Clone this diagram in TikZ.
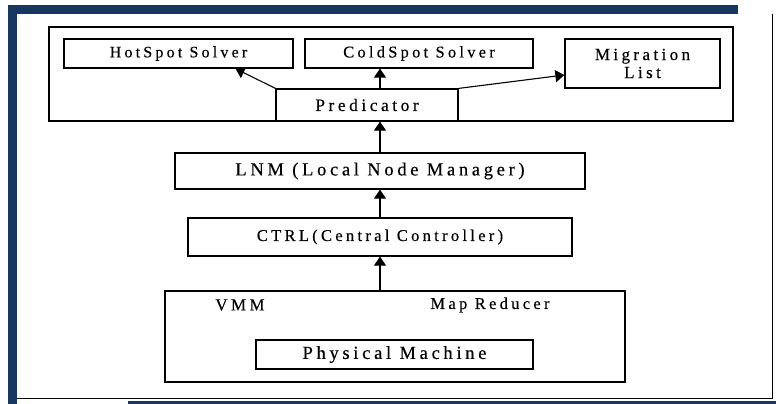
\documentclass[tikz,border=0pt]{standalone}
\usepackage{fontspec}
\setmainfont{Liberation Serif}[LetterSpace=20,FakeBold=0.4]
\usepackage{tikz}
\usepackage{xcolor}
\usetikzlibrary{arrows.meta}
\definecolor{frameblue}{RGB}{24,55,94}

\begin{document}
\begin{tikzpicture}[x=1pt,y=-1pt,
    box/.style={draw,line width=1.2pt,rectangle,inner sep=0pt,font=\fontsize{16}{18}\selectfont},
    arr/.style={line width=1.1pt,-{Triangle[length=9pt,width=12pt]}}]
    \useasboundingbox (0,0) rectangle (776,404);
    % page frame
    \fill[frameblue] (8,5) rectangle (17,404);
    \fill[frameblue] (8,5) rectangle (738,14);
    \fill[frameblue] (128,401) rectangle (776,404);
    \draw[line width=0.8pt] (772,14) -- (772,398) -- (17,398);
    % solver part
    \node[box,minimum width=684pt,minimum height=94pt] (solvers) at (391,74) {};
    \node[box,minimum width=229pt,minimum height=29pt] (hot) at (178.5,53.5) {HotSpot Solver};
    \node[box,minimum width=228pt,minimum height=29pt,font=\fontsize{16.4}{18}\selectfont] (cold) at (419,53.5) {ColdSpot Solver};
    \node[box,minimum width=155pt,minimum height=49pt,align=center,font=\fontsize{17}{18}\selectfont] (migr) at (642.5,63.5) {Migration\\List};
    \node[box,minimum width=182pt,minimum height=32pt,font=\fontsize{17.5}{18}\selectfont] (pred) at (367,105) {Predicator};
    % managers
    \node[box,minimum width=410pt,minimum height=36pt,font=\fontsize{18.5}{20}\selectfont] (lnm) at (380,171) {LNM (Local Node Manager)};
    \node[box,minimum width=384pt,minimum height=38pt,font=\fontsize{16.5}{18}\selectfont] (ctrl) at (380,237) {CTRL(Central Controller)};
    % machine
    \node[box,minimum width=460pt,minimum height=91pt] (vmbox) at (395,336.5) {};
    \node[font=\fontsize{17}{18}\selectfont] (vmm) at (240,305) {VMM};
    \node[font=\fontsize{16.5}{18}\selectfont] (mapred) at (490,305) {Map Reducer};
    \node[box,minimum width=277pt,minimum height=29pt,font=\fontsize{18.5}{20}\selectfont] (phys) at (394.5,354.5) {Physical Machine};
    % arrows
    \draw[arr] (pred.north west) -- ([xshift=57pt]hot.south);
    \draw[arr] (pred.north -| lnm.north) -- (cold.south -| lnm.north);
    \draw[arr] (pred.north east) -- ([yshift=-11.5pt]migr.west);
    \draw[arr] (lnm.north) -- (pred.south -| lnm.north);
    \draw[arr] (ctrl.north) -- (lnm.south);
    \draw[arr] (vmbox.north -| ctrl.south) -- (ctrl.south);
  \end{tikzpicture}
\end{document}
